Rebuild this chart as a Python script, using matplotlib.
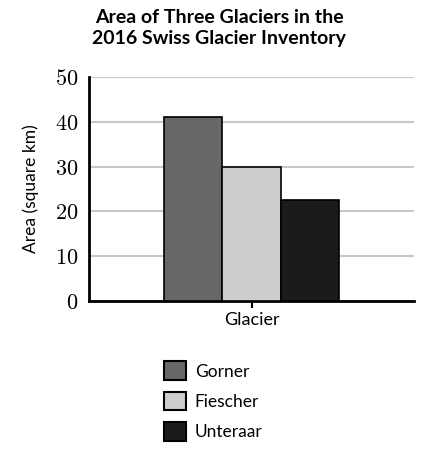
import matplotlib
matplotlib.use("Agg")
import matplotlib.pyplot as plt
from matplotlib.patches import Patch

glaciers = ["Gorner", "Fiescher", "Unteraar"]
areas = [41, 30, 22.5]
colors = ["#676767", "#cdcdcd", "#1b1b1b"]
yticks = [0, 10, 20, 30, 40, 50]

plt.rcParams['mathtext.fontset'] = 'cm'

fig = plt.figure(figsize=(4.29, 4.49), dpi=100)
W, H = 429, 449
ax = fig.add_axes([89 / W, 1 - 301 / H, 325 / W, 224 / H])

width = 0.18
offsets = [-width, 0, width]
for name, val, c, off in zip(glaciers, areas, colors, offsets):
    ax.bar(off, val, width=width, color=c, edgecolor="black", linewidth=1.2,
           label=name, zorder=3)

ax.set_xlim(-0.5, 0.5)
ax.set_ylim(0, 50)
ax.set_yticks(yticks)
ax.set_yticklabels([f"${v}$" for v in yticks], fontsize=16)
ax.tick_params(axis='y', length=0, pad=8)
ax.set_xticks([0])
ax.set_xticklabels(["Glacier"], fontfamily="Lato", fontsize=13)
ax.tick_params(axis='x', length=5, width=1.5, pad=3)
ax.grid(axis='y', color="#c8c8c8", linewidth=1.5, zorder=0)
for s in ["top", "right"]:
    ax.spines[s].set_visible(False)
for s in ["left", "bottom"]:
    ax.spines[s].set_linewidth(2)
ax.set_ylabel("Area (square km)", fontfamily="Lato", fontsize=12.5, labelpad=11)

fig.text(219 / W, 1 - 28 / H, "Area of Three Glaciers in the\n2016 Swiss Glacier Inventory",
         ha="center", va="center", fontfamily="Lato", fontweight="bold",
         fontsize=14, linespacing=1.35)

handles = [Patch(facecolor=c, edgecolor="black", linewidth=1.5) for c in colors]
fig.legend(handles, glaciers, loc="center left", bbox_to_anchor=(148 / W, 1 - 401 / H),
           frameon=False, prop={"family": "Lato", "size": 12.5},
           handlelength=1.3, handleheight=1.3, labelspacing=0.65, handletextpad=0.5)

fig.savefig("out.png", dpi=100)
